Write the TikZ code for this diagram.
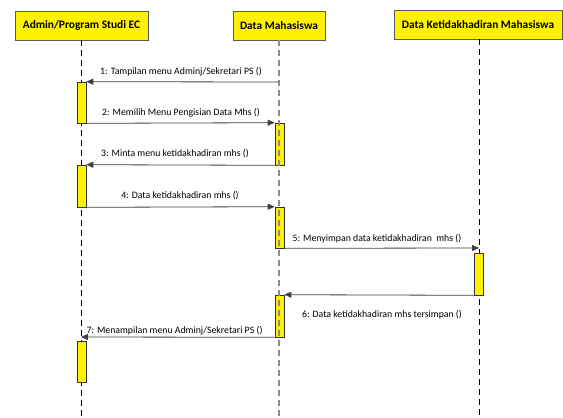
\documentclass[tikz,border=0pt]{standalone}
\usepackage{fontspec}
\setmainfont{Carlito}
\usetikzlibrary{arrows.meta}
\begin{document}
\begin{tikzpicture}[x=1pt,y=-1pt,
 hdr/.style={draw=black!65, fill=yellow, line width=0.8pt, font=\bfseries\fontsize{11.4}{13}\selectfont, inner sep=0pt},
 act/.style={draw=black!80, fill=yellow, line width=0.6pt, inner sep=0pt, minimum width=9},
 life/.style={draw=black, dash pattern=on 6pt off 4pt, line width=0.6pt},
 lifeg/.style={draw=black!45, dash pattern=on 6pt off 4pt, line width=1.2pt},
 msg/.style={draw=black!75, line width=0.8pt, -{Triangle[length=7pt,width=6pt]}},
 lbl/.style={font=\fontsize{9.8}{11}\selectfont, inner sep=0pt, text=black}]
\useasboundingbox (0,0) rectangle (563,418);
% headers
\node[hdr, minimum width=133, minimum height=29] (h1) at (81.5,25.5) {Admin/Program Studi EC};
\node[hdr, minimum width=92, minimum height=29] (h2) at (279,25.5) {Data Mahasiswa};
\node[hdr, minimum width=168, minimum height=29] (h3) at (478,24.5) {Data Ketidakhadiran Mahasiswa};
% lifeline ends
\coordinate (l1b) at (81,418);
\coordinate (l2b) at (279,418);
\coordinate (l3b) at (479,418);
\draw[life] (h1.south -| l1b) -- (l1b);
\draw[life] (h3.south -| l3b) -- (l3b);
% activation boxes
\node[act, minimum height=41] (a1) at (81.5,102.5) {};
\node[act, minimum height=42] (a2) at (81.5,186) {};
\node[act, minimum height=41] (a3) at (81.5,361.5) {};
\node[act, minimum height=42] (b1) at (279.5,144) {};
\node[act, minimum height=41] (b2) at (279.5,227.5) {};
\node[act, minimum height=42] (b3) at (279.5,316) {};
\node[act, minimum height=42] (c1) at (479,274) {};
\draw[lifeg] (h2.south -| l2b) -- (l2b);
% message endpoints
\coordinate (m1s) at (279,82);
\coordinate (m5e) at (479,248);
\coordinate (m7e) at (81,337);
% messages
\draw[msg] (m1s) -- (a1.north east);
\draw[msg] (a1.south east) -- (b1.north west);
\draw[msg] (b1.south west) -- (a2.north east);
\draw[msg] (a2.south east) -- (b2.north west);
\draw[msg] (b2.south east) -- (m5e);
\draw[msg] (c1.south west) -- (b3.north east);
\draw[msg] (b3.south west) -- (m7e);
% labels
\node[lbl] (t1) at (181,72) {1: Tampilan menu Adminj/Sekretari PS ()};
\node[lbl] (t2) at (181,113) {2: Memilih Menu Pengisian Data Mhs ()};
\node[lbl] (t3) at (175,154) {3: Minta menu ketidakhadiran mhs ()};
\node[lbl] (t4) at (180,196) {4: Data ketidakhadiran mhs ()};
\node[lbl] (t5) at (377,239) {5: Menyimpan data ketidakhadiran\ \ mhs ()};
\node[lbl] (t6) at (382,315) {6: Data ketidakhadiran mhs tersimpan ()};
\node[lbl] (t7) at (174.5,331) {7: Menampilan menu Adminj/Sekretari PS ()};
\end{tikzpicture}
\end{document}
